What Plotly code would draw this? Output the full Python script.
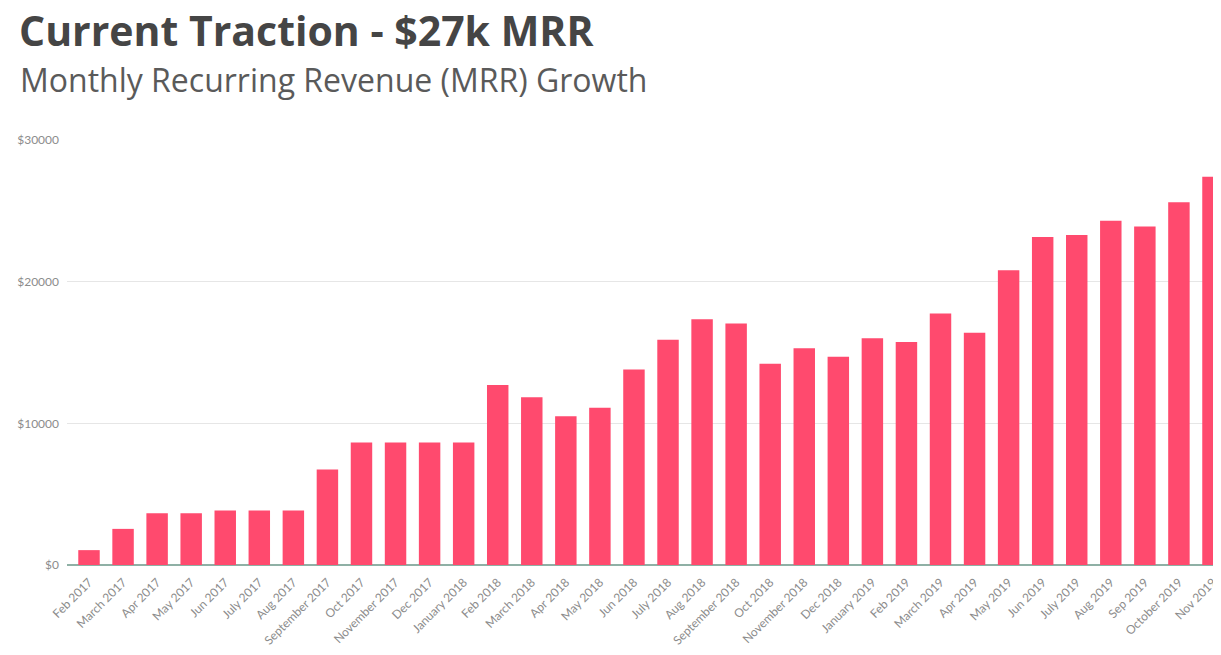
import plotly.graph_objects as go

months = ["Feb 2017", "March 2017", "Apr 2017", "May 2017", "Jun 2017", "July 2017",
          "Aug 2017", "September 2017", "Oct 2017", "November 2017", "Dec 2017",
          "January 2018", "Feb 2018", "March 2018", "Apr 2018", "May 2018", "Jun 2018",
          "July 2018", "Aug 2018", "September 2018", "Oct 2018", "November 2018",
          "Dec 2018", "January 2019", "Feb 2019", "March 2019", "Apr 2019", "May 2019",
          "Jun 2019", "July 2019", "Aug 2019", "Sep 2019", "October 2019", "Nov 2019"]

mrr = [1050, 2550, 3650, 3650, 3850, 3850, 3850, 6750, 8650, 8650, 8650, 8650,
       12700, 11850, 10500, 11100, 13800, 15900, 17350, 17050, 14200, 15300, 14700,
       16000, 15750, 17750, 16400, 20800, 23150, 23300, 24300, 23900, 25600, 27400]

y_ticks = [0, 10000, 20000, 30000]
y_tick_labels = ["$0", "$10000", "$20000", "$30000"]

W, H = 1221, 655
left, top, bottom = 59, 131.5, 98
plot_w = W - left
plot_h = H - top - bottom

fig = go.Figure(go.Bar(
    x=months, y=mrr,
    marker=dict(color="#FF4A6E", line=dict(width=0)),
    width=0.63,
))

fig.update_layout(
    width=W, height=H,
    margin=dict(l=left, r=0, t=top, b=bottom, autoexpand=False),
    plot_bgcolor="white", paper_bgcolor="white",
    showlegend=False,
    font=dict(family="Open Sans, sans-serif", color="#888"),
    title=dict(
        text="Current Traction - $27k MRR",
        font=dict(family="Open Sans, sans-serif", size=41, color="#454545", weight="bold"),
        xref="container", yref="container", x=11 / W, xanchor="left",
        y=1 - 9 / H, yanchor="top",
    ),
    annotations=[dict(
        text="Monthly Recurring Revenue (MRR) Growth",
        xref="paper", yref="paper",
        x=(10 - left) / plot_w, xanchor="left",
        y=1 + (top - 47) / plot_h, yanchor="top",
        showarrow=False,
        font=dict(family="Open Sans, sans-serif", size=32, color="#5a5a5a"),
    )],
    xaxis=dict(
        range=[-(89 - 67) / 34.06, (1229 - 89) / 34.06],
        tickangle=-45,
        tickfont=dict(family="Lato, sans-serif", size=12, color="#8c8c8c"),
        showgrid=False, showline=False, ticks="",
        ticklabelstandoff=7,
        fixedrange=True,
    ),
    yaxis=dict(
        range=[0, 30000],
        tickvals=y_ticks, ticktext=y_tick_labels,
        tickfont=dict(family="Lato, sans-serif", size=12, color="#8c8c8c"),
        showgrid=True, gridcolor="#e6e6e6", gridwidth=1,
        zeroline=True, zerolinecolor="#8fb0a5", zerolinewidth=1.5,
        ticks="", ticklabelstandoff=7,
    ),
)

fig.write_html("out.html")
